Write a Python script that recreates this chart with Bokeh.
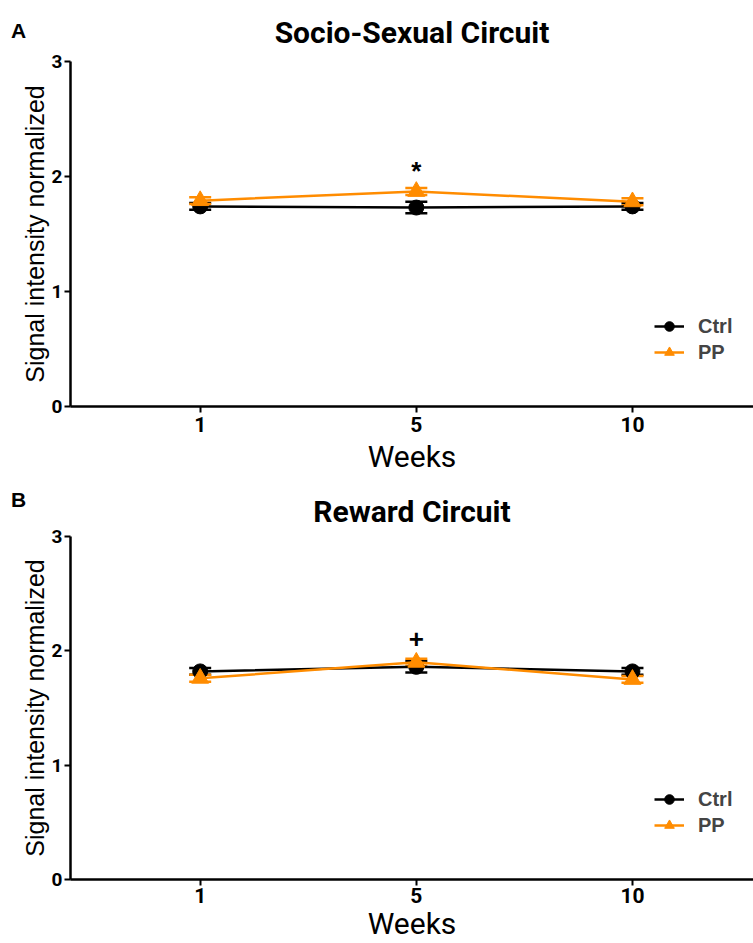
from bokeh.plotting import figure
from bokeh.layouts import column
from bokeh.models import (FixedTicker, Whisker, TeeHead, ColumnDataSource, Label,
                          Legend, LegendItem, Range1d)
from bokeh.embed import file_html
from bokeh.resources import INLINE
from bokeh.core.properties import value

weeks = ["1", "5", "10"]
xpos = [1, 2, 3]
ctrl_a = [1.74, 1.73, 1.74]
ctrl_a_err = [0.03, 0.05, 0.03]
pp_a = [1.79, 1.87, 1.78]
pp_a_err = [0.03, 0.03, 0.03]
ctrl_b = [1.82, 1.86, 1.82]
ctrl_b_err = [0.03, 0.05, 0.03]
pp_b = [1.76, 1.90, 1.75]
pp_b_err = [0.03, 0.03, 0.03]
titles = ["Socio-Sexual Circuit", "Reward Circuit"]
panel_labels = ["A", "B"]
sig_marks = ["*", "+"]
sig_y = [2.05, 2.10]
y_ticks = [0, 1, 2, 3]

ORANGE = "#FF8C00"
NARROW = "Roboto"


def make_panel(title, plabel, ctrl, ctrl_err, pp, pp_err, mark, mark_y,
               height, tborder, bborder, label_y, tick_standoff, xlab_standoff,
               title_standoff):
    p = figure(width=753, height=height, output_backend="svg", toolbar_location=None,
               x_range=Range1d(0.4, 3.56), y_range=Range1d(0, 3),
               min_border_left=70, min_border_right=0, min_border_top=tborder,
               min_border_bottom=bborder)
    p.outline_line_color = None
    p.xgrid.visible = False
    p.ygrid.visible = False
    p.title.text = title
    p.title.align = "center"
    p.title.text_font = NARROW
    p.title.text_font_size = "30px"
    p.title.text_font_style = "bold"
    p.title.text_color = "black"
    p.title.standoff = title_standoff

    for ax in (p.xaxis[0], p.yaxis[0]):
        ax.axis_line_width = 2.5
        ax.axis_line_color = "black"
        ax.major_tick_line_width = 2
        ax.major_tick_line_color = "black"
        ax.major_tick_out = 6
        ax.major_tick_in = 0
        ax.minor_tick_line_color = None
        ax.major_label_text_font = NARROW
        ax.major_label_text_font_style = "bold"
        ax.major_label_text_color = "black"
        ax.axis_label_text_font_style = "normal"
        ax.axis_label_text_color = "black"

    p.xaxis.ticker = FixedTicker(ticks=xpos)
    p.xaxis.major_label_overrides = {x: w for x, w in zip(xpos, weeks)}
    p.xaxis.major_label_text_font_size = "21px"
    p.xaxis.major_label_standoff = tick_standoff
    p.xaxis.axis_label = "Weeks"
    p.xaxis.axis_label_text_font = NARROW
    p.xaxis.axis_label_text_font_size = "30px"
    p.xaxis.axis_label_standoff = xlab_standoff

    p.yaxis.ticker = FixedTicker(ticks=y_ticks)
    p.yaxis.major_label_text_font_size = "19px"
    p.yaxis.axis_label = "Signal intensity normalized"
    p.yaxis.axis_label_text_font = "Liberation Sans"
    p.yaxis.axis_label_text_font_size = "25px"
    p.yaxis.axis_label_standoff = 0
    p.yaxis.major_label_standoff = 2

    items = []
    for vals, errs, color, marker, size, name in (
            (ctrl, ctrl_err, "black", "circle", 15, "Ctrl"),
            (pp, pp_err, ORANGE, "triangle", 17, "PP")):
        src = ColumnDataSource(dict(
            x=xpos, y=vals,
            upper=[v + e for v, e in zip(vals, errs)],
            lower=[v - e for v, e in zip(vals, errs)]))
        ln = p.line("x", "y", source=src, line_color=color, line_width=2.5)
        w = Whisker(source=src, base="x", upper="upper", lower="lower",
                    line_color=color, line_width=2.5,
                    upper_head=TeeHead(size=22, line_color=color, line_width=2.5),
                    lower_head=TeeHead(size=22, line_color=color, line_width=2.5))
        p.add_layout(w)
        sc = p.scatter("x", "y", source=src, marker=marker, size=size,
                       fill_color=color, line_color=color)
        items.append(LegendItem(label=name, renderers=[ln, sc]))

    leg = Legend(items=items, location=(584, 42), background_fill_alpha=0,
                 border_line_color=None, label_text_font="Liberation Sans",
                 label_text_font_style="bold", label_text_font_size="20px",
                 glyph_width=30, glyph_height=24, spacing=2, label_standoff=14)
    p.add_layout(leg, "center")

    p.text(x=[2], y=[mark_y], text=[mark], text_align="center", text_baseline="middle",
           text_font=value("Liberation Sans"), text_font_size="26px",
           text_font_style="bold", text_color="black")

    p.add_layout(Label(x=18, y=label_y, x_units="canvas", y_units="canvas",
                       text=plabel, text_align="center", text_baseline="middle",
                       text_font="Liberation Sans", text_font_size="21px",
                       text_font_style="bold", text_color="black"), "left")
    return p


pa = make_panel(titles[0], panel_labels[0], ctrl_a, ctrl_a_err, pp_a, pp_a_err,
                sig_marks[0], sig_y[0], 483, 61, 77, 30, 4, 4, 23)
pb = make_panel(titles[1], panel_labels[1], ctrl_b, ctrl_b_err, pp_b, pp_b_err,
                sig_marks[1], sig_y[1], 460, 53, 61, 16, 2, 0, 15)

layout = column(pa, pb, spacing=0)
open("out.html", "w").write(file_html(layout, INLINE))
